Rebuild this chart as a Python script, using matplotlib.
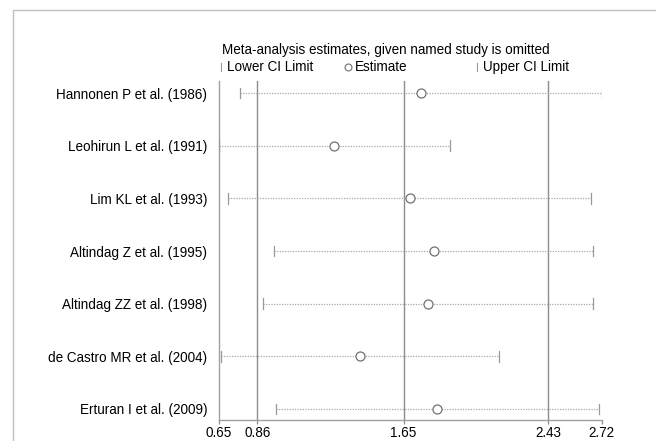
import matplotlib.pyplot as plt
from matplotlib.patches import Rectangle
from matplotlib.lines import Line2D

plt.rcParams['font.family'] = ['Liberation Sans', 'DejaVu Sans']

# studies (top to bottom)
studies = ['Hannonen P et al. (1986)', 'Leohirun L et al. (1991)', 'Lim KL et al. (1993)',
           'Altindag Z et al. (1995)', 'Altindag ZZ et al. (1998)', 'de Castro MR et al. (2004)',
           'Erturan I et al. (2009)']
estimate = [1.742, 1.272, 1.683, 1.814, 1.780, 1.414, 1.832]
lower_ci = [0.768, 0.650, 0.703, 0.950, 0.889, 0.664, 0.959]
upper_ci = [2.720, 1.899, 2.664, 2.675, 2.675, 2.164, 2.706]

# overall estimate and CI (reference lines)
overall = [0.86, 1.65, 2.43]
xticks = [0.65, 0.86, 1.65, 2.43, 2.72]

W, H = 656, 441
fs = 9.75
fig = plt.figure(figsize=(W / 100, H / 100), dpi=100)
ax = fig.add_axes([218.5 / W, 1 - 420 / H, (601.7 - 218.5) / W, (420 - 81) / H])

grey = '#8c8c8c'
for v in overall:
    ax.axvline(v, color=grey, lw=1.0, zorder=1)

ypos = list(range(len(studies)))
for y, lo, est, hi in zip(ypos, lower_ci, estimate, upper_ci):
    ax.plot([lo, hi], [y, y], color='#a8a8a8', lw=0.9, ls=(0, (1, 1.1)), zorder=2)
    ax.plot([lo, lo], [y - 0.1, y + 0.1], color='#999999', lw=0.9, zorder=3)
    ax.plot([hi, hi], [y - 0.1, y + 0.1], color='#999999', lw=0.9, zorder=3)
ax.scatter(estimate, ypos, s=42, facecolors='white', edgecolors='#707070',
           linewidths=0.9, zorder=4)

ax.set_xlim(0.65, 2.72)
ax.set_ylim(6.21, -0.23)
ax.set_yticks(ypos)
ax.set_yticklabels(studies, fontsize=fs)
ax.tick_params(axis='y', length=0, pad=8)
ax.set_xticks(xticks)
ax.set_xticklabels([f'{t:.2f}' for t in xticks], fontsize=fs)
ax.tick_params(axis='x', length=3, width=0.9, color=grey, pad=1.5)

for s in ['top', 'right']:
    ax.spines[s].set_visible(False)
for s in ['left', 'bottom']:
    ax.spines[s].set_color('#a0a0a0')
    ax.spines[s].set_linewidth(1.0)

# title and legend (Stata style)
fig.text(222 / W, 1 - 50 / H, 'Meta-analysis estimates, given named study is omitted',
         fontsize=fs, va='center', ha='left')
ly = 1 - 67 / H
fig.add_artist(Line2D([221 / W, 221 / W], [ly - 4 / H, ly + 4 / H], color='#999999', lw=0.8))
fig.text(227 / W, ly, 'Lower CI Limit', fontsize=fs, va='center', ha='left')
fig.add_artist(Line2D([348 / W], [ly], marker='o', markersize=5, mfc='white',
                      mec='#707070', mew=0.8, ls='none'))
fig.text(355 / W, ly, 'Estimate', fontsize=fs, va='center', ha='left')
fig.add_artist(Line2D([477 / W, 477 / W], [ly - 4 / H, ly + 4 / H], color='#999999', lw=0.8))
fig.text(483 / W, ly, 'Upper CI Limit', fontsize=fs, va='center', ha='left')

# outer frame
fig.add_artist(Rectangle((13 / W, -0.05), 1.0, 1 - 10 / H + 0.05, transform=fig.transFigure,
                         fill=False, edgecolor='#c0c0c0', lw=1.0))

fig.savefig('out.png', dpi=100)
